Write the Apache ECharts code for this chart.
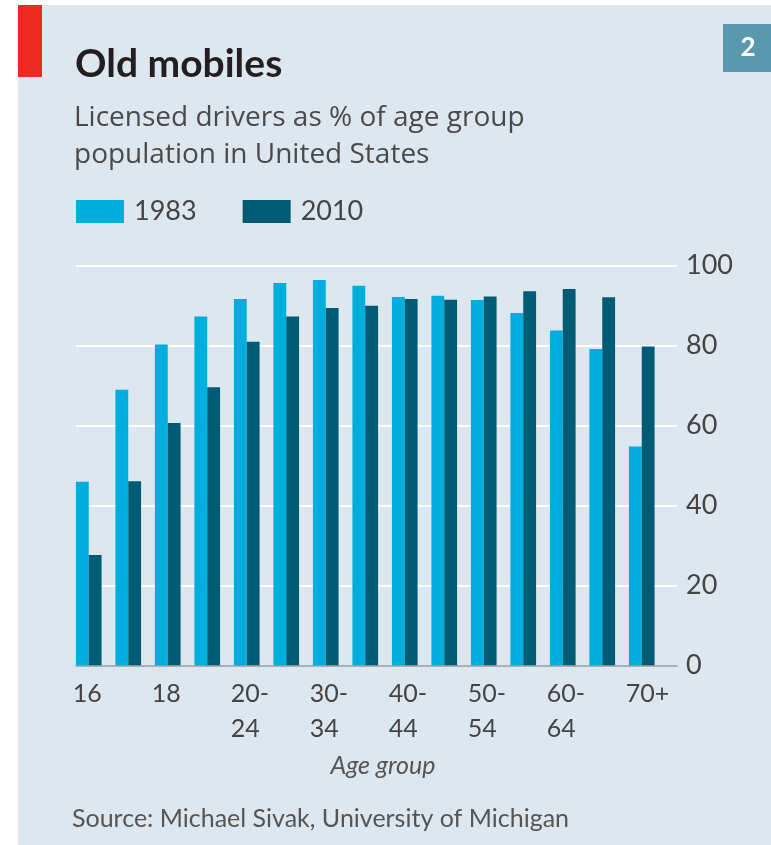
<!DOCTYPE html>
<html>
<head>
<meta charset="utf-8">
<script src="https://cdn.jsdelivr.net/npm/echarts@6/dist/echarts.min.js"></script>
<style>
  html, body { margin: 0; padding: 0; background: #fff; }
  #main { width: 771px; height: 845px; }
</style>
</head>
<body>
<div id="main"></div>
<script>
// licensed drivers as % of age group population, USA
const ageGroups = ['16', '17', '18', '19', '20-24', '25-29', '30-34', '35-39',
  '40-44', '45-49', '50-54', '55-59', '60-64', '65-69', '70+'];
const drivers1983 = [46, 69, 80.3, 87.3, 91.7, 95.7, 96.4, 95, 92.2, 92.5, 91.4, 88.2, 83.8, 79.2, 54.8];
const drivers2010 = [27.7, 46.1, 60.7, 69.6, 81, 87.3, 89.4, 90, 91.7, 91.5, 92.3, 93.6, 94.2, 92.1, 79.8];
const yTicks = [0, 20, 40, 60, 80, 100];

const font = 'Lato, "Noto Sans", sans-serif';
const panel = '#dde7ef';

const chart = echarts.init(document.getElementById('main'));

chart.setOption({
  backgroundColor: panel,
  animation: false,
  title: [
    {
      text: 'Old mobiles',
      left: 75, top: 45, padding: 0,
      textStyle: { fontFamily: font, fontSize: 39, fontWeight: 'bold', color: '#231f20' }
    },
    {
      text: 'Licensed drivers as % of age group\npopulation in United States',
      left: 74, top: 100, padding: 0,
      textStyle: { fontFamily: '"Open Sans", ' + font, fontSize: 28, fontWeight: 'normal', color: '#4a4a4a', lineHeight: 37 }
    },
    {
      text: 'Source: Michael Sivak, University of Michigan',
      left: 72, top: 806, padding: 0,
      textStyle: { fontFamily: font, fontSize: 25, fontWeight: 'normal', color: '#555' }
    }
  ],
  legend: {
    left: 76, top: 198, padding: 0,
    itemWidth: 48, itemHeight: 23, itemGap: 46,
    icon: 'rect',
    textStyle: { fontFamily: font, fontSize: 27, color: '#444', padding: [0, 0, 0, 5] },
    data: ['1983', '2010']
  },
  graphic: [
    { type: 'rect', shape: { x: 0, y: 0, width: 18, height: 845 }, style: { fill: '#fff' } },
    { type: 'rect', shape: { x: 0, y: 0, width: 771, height: 5 }, style: { fill: '#fff' } },
    { type: 'rect', shape: { x: 18, y: 5, width: 24, height: 72 }, style: { fill: '#ec2a22' } },
    { type: 'rect', shape: { x: 723, y: 24, width: 48, height: 48 }, style: { fill: '#5a98ad' } },
    {
      type: 'text', x: 748, y: 48,
      style: { text: '2', fill: '#fff', font: 'bold 26px ' + font, textAlign: 'center', textVerticalAlign: 'middle' }
    }
  ],
  grid: [
    { left: 69, right: 109.5, top: 265.7, bottom: 179.3 },
    { left: 76, right: 94, top: 265.7, bottom: 179.3 }
  ],
  xAxis: [
    {
      type: 'category', gridIndex: 0, data: ageGroups,
      axisLine: { show: false }, axisTick: { show: false },
      axisLabel: {
        interval: 1, margin: 11,
        formatter: v => v.split('-').map((s, i, a) => '{a|' + s + (i < a.length - 1 ? '-' : '') + '}').join('\n'),
        rich: { a: { fontFamily: font, fontSize: 25, color: '#444', lineHeight: 35, width: 32, align: 'left' } }
      }
    },
    {
      type: 'value', gridIndex: 1, min: 0, max: 1, z: 3,
      axisLine: { show: true, lineStyle: { color: '#8e979c', width: 1.5 } },
      axisTick: { show: false }, axisLabel: { show: false }, splitLine: { show: false },
      name: 'Age group', nameLocation: 'middle', nameGap: 88,
      nameTextStyle: { fontFamily: font, fontSize: 25, fontStyle: 'italic', color: '#555', padding: [0, 0, 0, 13] }
    }
  ],
  yAxis: [
    {
      type: 'value', gridIndex: 0, min: 0, max: 100, interval: 20,
      show: false
    },
    {
      type: 'value', gridIndex: 1, position: 'right', min: 0, max: 100, interval: 20,
      axisLine: { show: false }, axisTick: { show: false },
      axisLabel: {
        margin: 9, fontFamily: font, fontSize: 27, color: '#444',
        formatter: v => yTicks.includes(v) ? String(v) : ''
      },
      splitLine: { lineStyle: { color: '#fff', width: 2 } }
    }
  ],
  series: [
    {
      name: '1983', type: 'bar', xAxisIndex: 0, yAxisIndex: 0,
      data: drivers1983, barGap: '0%', barCategoryGap: '35%',
      itemStyle: { color: '#00aedd' }
    },
    {
      name: '2010', type: 'bar', xAxisIndex: 0, yAxisIndex: 0,
      data: drivers2010,
      itemStyle: { color: '#005b75' }
    }
  ]
});
</script>
</body>
</html>
